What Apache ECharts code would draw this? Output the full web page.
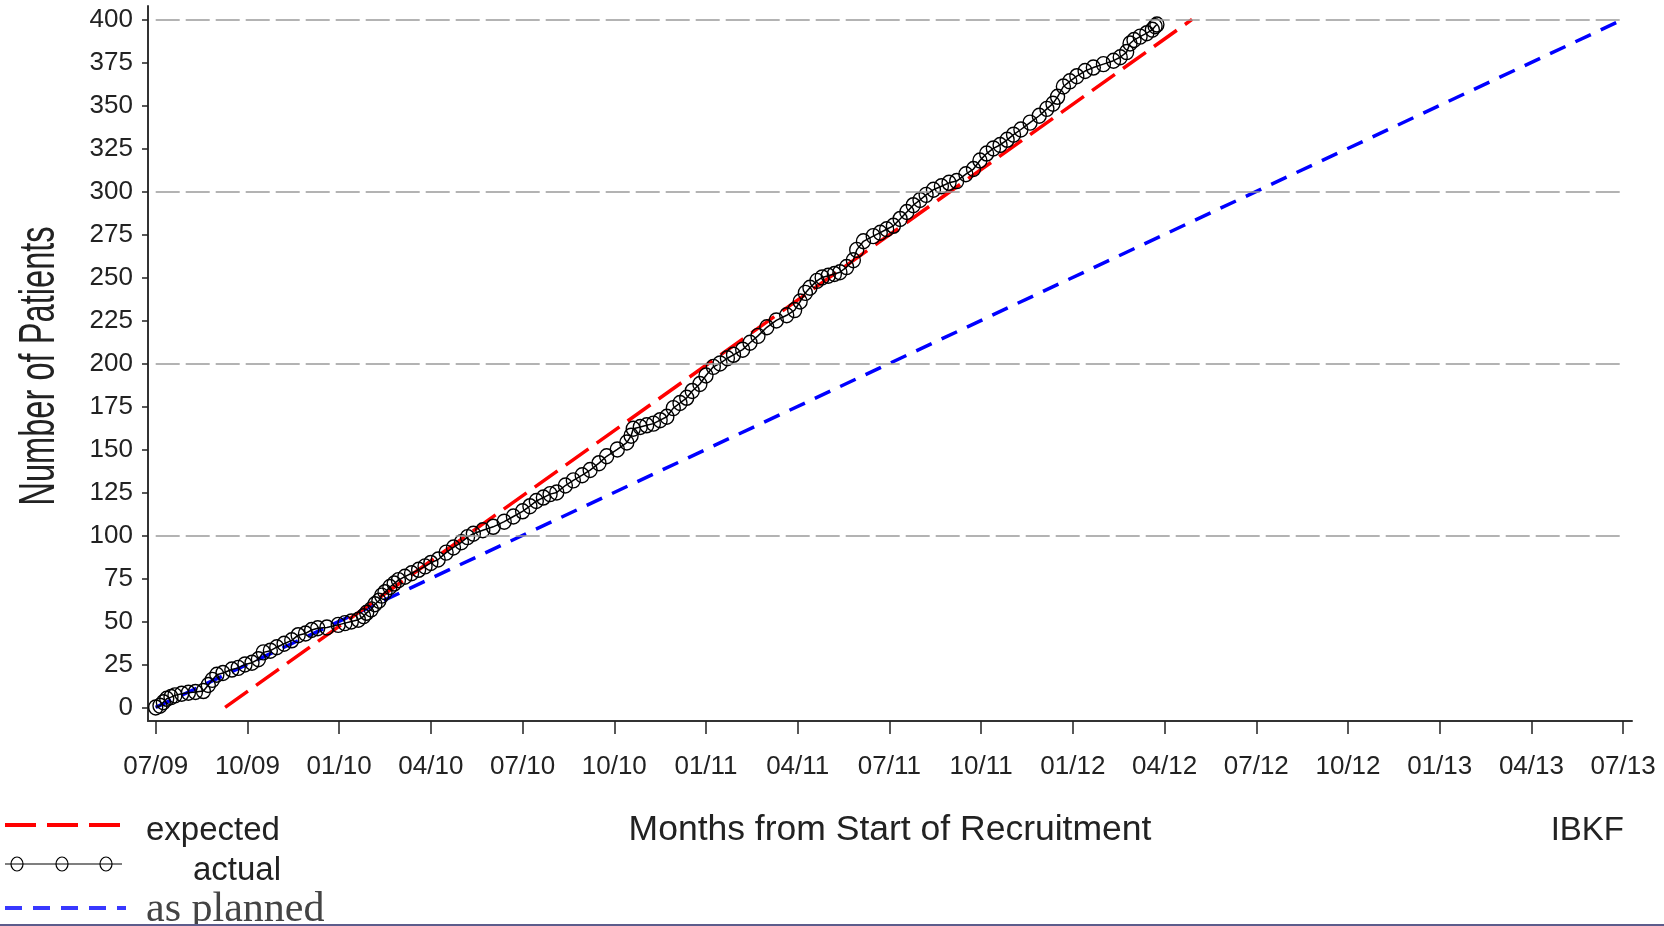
<!DOCTYPE html>
<html>
<head>
<meta charset="utf-8">
<script src="https://cdn.jsdelivr.net/npm/echarts@6/dist/echarts.min.js"></script>
<style>
html,body{margin:0;padding:0;background:#fff;}
#chart{width:1664px;height:926px;}
</style>
</head>
<body>
<div id="chart"></div>
<script>
// ---- data ----
const xTickMonths = [0,3,6,9,12,15,18,21,24,27,30,33,36,39,42,45,48];
const xTickLabels = ['07/09','10/09','01/10','04/10','07/10','10/10','01/11','04/11','07/11','10/11','01/12','04/12','07/12','10/12','01/13','04/13','07/13'];
const yTickValues = [0,25,50,75,100,125,150,175,200,225,250,275,300,325,350,375,400];
const gridValues = [100,200,300,400];

const expectedMonths = [2.27, 33.9];
const expectedCounts = [0, 400];
const plannedMonths = [0, 48];
const plannedCounts = [0, 400];

const actualMonths = [
0.0,0.14,0.25,0.36,0.5,0.63,0.85,1.07,1.3,1.56,1.72,1.85,2.0,2.2,2.49,2.7,2.92,3.15,3.36,3.52,
3.75,3.96,4.2,4.45,4.66,4.9,5.1,5.3,5.6,5.97,6.19,6.4,6.63,6.8,6.9,7.05,7.17,7.3,7.39,7.5,
7.66,7.8,7.94,8.15,8.37,8.6,8.81,9.0,9.24,9.5,9.74,10.0,10.2,10.39,10.7,11.04,11.4,11.7,12.0,12.24,
12.45,12.68,12.9,13.12,13.4,13.66,13.95,14.21,14.5,14.75,15.1,15.41,15.55,15.62,15.85,16.06,16.28,16.5,16.72,16.93,
17.15,17.37,17.55,17.8,18.0,18.24,18.46,18.7,18.9,19.2,19.44,19.7,19.99,20.3,20.64,20.9,21.08,21.25,21.4,21.63,
21.8,22.0,22.2,22.38,22.6,22.82,22.93,23.15,23.47,23.7,23.91,24.13,24.35,24.57,24.78,25.0,25.2,25.44,25.7,25.95,
26.2,26.5,26.75,26.96,27.18,27.4,27.62,27.85,28.06,28.3,28.6,28.9,29.15,29.35,29.5,29.69,29.9,30.13,30.4,30.67,
31.0,31.33,31.55,31.76,31.87,32.0,32.2,32.42,32.6,32.69,32.75
];
const actualCounts = [
0,1,3,5,6,7,8,8.5,9,9.5,13,16,19,20,22,23,25,26,28,32,
33,35,37,39,42,43,45,46,46.5,48,49,50,51,53,55,57,60,62,65,67,
70,72,74,76,78,80,82,84,86,90,93,96,99,101,103,105,108,111,114,117,
120,122,124,125,129,132,135,138,142,146,150,154,158,162,163,164,165,167,169,174,
177,180,184,188,193,198,200,203,205,208,212,216,221,225,228,231,236,241,244,248,
250,251,252,253,256,260,266,271,274,276,278,280,284,288,292,295,298,301,303,305,
306,310,313,318,322,325,327,330,333,336,340,344,348,351,355,361,364,367,370,372,
374,376,378,381,386,388,390,392,394,396,397
];

const pairs = (xs, ys) => xs.map((x, i) => [x, ys[i]]);

const SANS = "'Liberation Sans', Arial, sans-serif";

const chart = echarts.init(document.getElementById('chart'), null, {renderer: 'canvas'});

const option = {
  animation: false,
  backgroundColor: '#fff',
  grid: {left: 148, right: 32, top: 6, bottom: 205, containLabel: false},
  xAxis: {
    type: 'value',
    min: -0.252,
    max: 48.29,
    splitLine: {show: false},
    axisLine: {show: true, onZero: false, lineStyle: {color: '#333', width: 2}},
    axisTick: {show: true, customValues: xTickMonths, length: 13, inside: false, lineStyle: {color: '#222', width: 1.5}},
    axisLabel: {
      customValues: xTickMonths,
      margin: 33,
      fontFamily: SANS, fontSize: 26, color: '#222',
      formatter: function (v) { const i = xTickMonths.indexOf(v); return i >= 0 ? xTickLabels[i] : ''; }
    },
    name: 'Months from Start of Recruitment',
    nameLocation: 'middle',
    nameGap: 91,
    nameTextStyle: {fontFamily: SANS, fontSize: 35.5, color: '#222'}
  },
  yAxis: {
    type: 'value',
    min: -7.9,
    max: 407.8,
    splitLine: {show: false},
    axisLine: {show: true, onZero: false, lineStyle: {color: '#333', width: 2}},
    axisTick: {show: true, customValues: yTickValues, length: 6, lineStyle: {color: '#222', width: 1.5}},
    axisLabel: {customValues: yTickValues, margin: 15, fontFamily: SANS, fontSize: 26, color: '#222'}
  },
  series: [
    {
      type: 'line', name: 'grid', data: [], z: 1, silent: true,
      markLine: {
        silent: true, symbol: ['none', 'none'], label: {show: false},
        lineStyle: {type: [24, 6], color: '#9a9a9a', width: 1.5},
        data: gridValues.map(v => [{coord: [0, v]}, {coord: [48, v]}])
      }
    },
    {
      type: 'line', name: 'as planned', z: 2,
      data: pairs(plannedMonths, plannedCounts),
      showSymbol: false, symbol: 'none',
      lineStyle: {color: '#0000ff', width: 3.5, type: [17, 11]}
    },
    {
      type: 'line', name: 'expected', z: 3,
      data: pairs(expectedMonths, expectedCounts),
      showSymbol: false, symbol: 'none',
      lineStyle: {color: '#ff0000', width: 3.5, type: [28, 10]}
    },
    {
      type: 'line', name: 'actual', z: 4,
      data: pairs(actualMonths, actualCounts),
      showAllSymbol: true,
      symbol: 'circle', symbolSize: [14, 15],
      itemStyle: {color: 'rgba(0,0,0,0)', borderColor: '#000', borderWidth: 1.4},
      lineStyle: {color: '#000', width: 1.5}
    }
  ],
  graphic: [
    {type: 'text', x: 40, y: 366, rotation: Math.PI / 2, scaleX: 0.816, scaleY: 1.25,
     style: {text: 'Number of Patients', font: "40px 'Liberation Sans', Arial, sans-serif", fill: '#222', textAlign: 'center', textVerticalAlign: 'middle'}},
    {type: 'text', x: 1624, y: 831,
     style: {text: 'IBKF', font: "33px 'Liberation Sans', Arial, sans-serif", fill: '#222', textAlign: 'right', textVerticalAlign: 'middle'}},
    // legend
    {type: 'line', shape: {x1: 5, y1: 825, x2: 123, y2: 825}, style: {stroke: '#ff0000', lineWidth: 4, lineDash: [31, 11]}},
    {type: 'text', x: 146, y: 831, style: {text: 'expected', font: "33px 'Liberation Sans', Arial, sans-serif", fill: '#222', textAlign: 'left', textVerticalAlign: 'middle'}},
    {type: 'line', shape: {x1: 5, y1: 864, x2: 122, y2: 864}, style: {stroke: '#000', lineWidth: 1.2}},
    {type: 'ellipse', shape: {cx: 17, cy: 864, rx: 6, ry: 7}, style: {stroke: '#000', fill: 'none', lineWidth: 1.2}},
    {type: 'ellipse', shape: {cx: 62, cy: 864, rx: 6, ry: 7}, style: {stroke: '#000', fill: 'none', lineWidth: 1.2}},
    {type: 'ellipse', shape: {cx: 106, cy: 864, rx: 6, ry: 7}, style: {stroke: '#000', fill: 'none', lineWidth: 1.2}},
    {type: 'text', x: 193, y: 871, style: {text: 'actual', font: "33px 'Liberation Sans', Arial, sans-serif", fill: '#222', textAlign: 'left', textVerticalAlign: 'middle'}},
    {type: 'line', shape: {x1: 5, y1: 908, x2: 126, y2: 908}, style: {stroke: '#3838ff', lineWidth: 4, lineDash: [17, 11]}},
    {type: 'text', x: 146, y: 910, style: {text: 'as planned', font: "42px 'Liberation Serif', 'Times New Roman', serif", fill: '#444', textAlign: 'left', textVerticalAlign: 'middle'}},
    {type: 'rect', shape: {x: 0, y: 924, width: 1664, height: 2}, style: {fill: '#5c5c8c'}}
  ]
};

chart.setOption(option);
</script>
</body>
</html>
